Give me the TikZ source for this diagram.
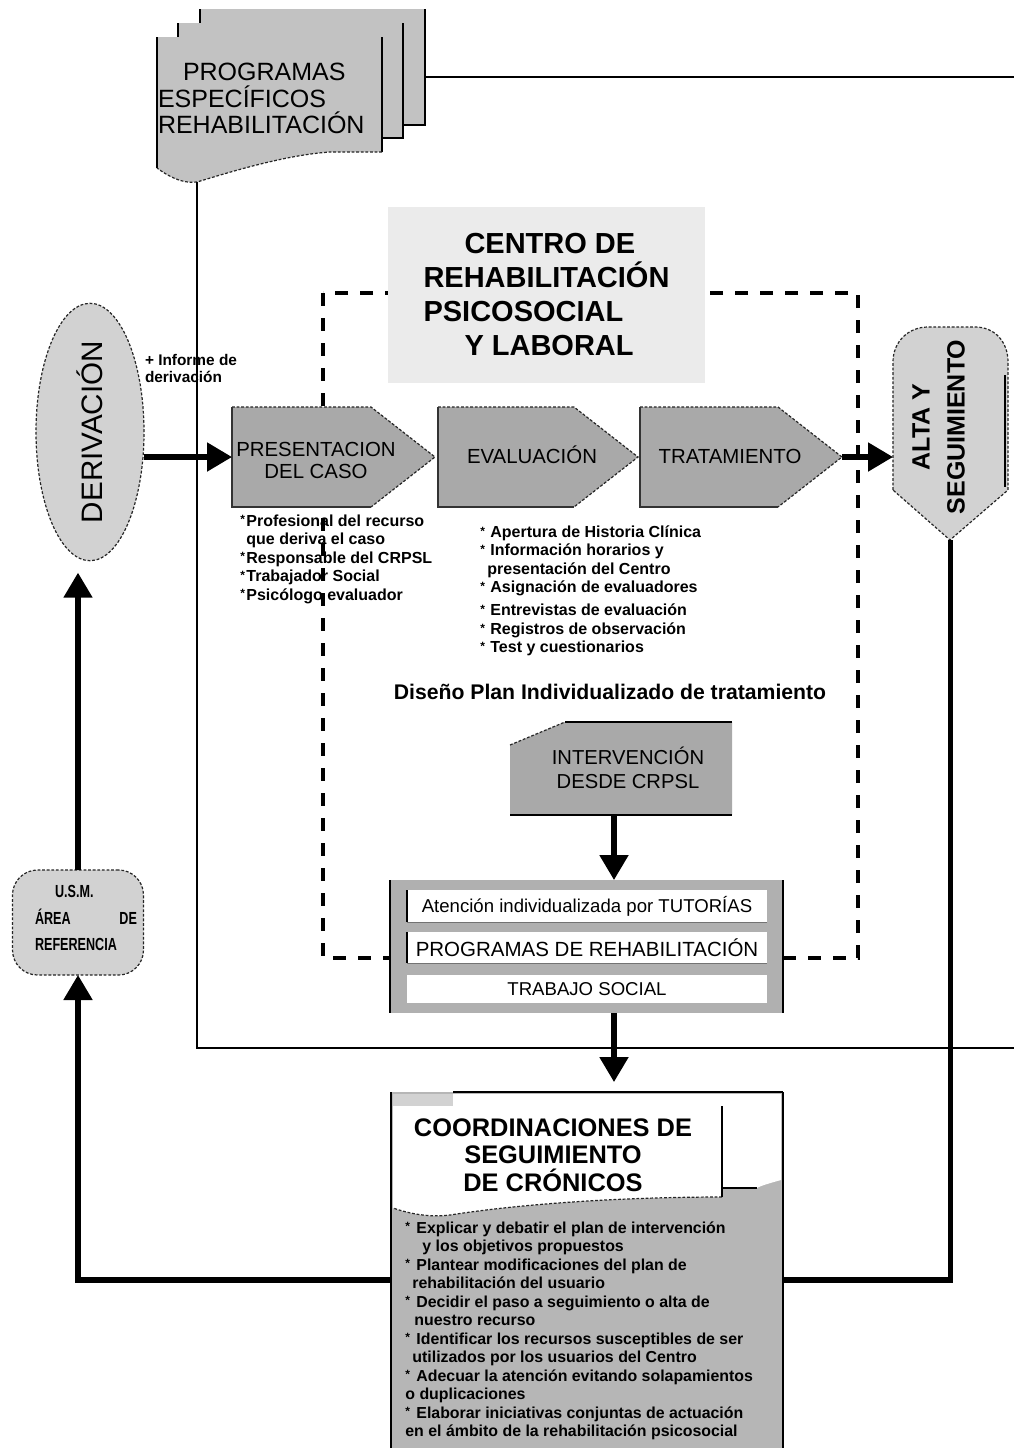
\documentclass[tikz,border=0pt]{standalone}
\usepackage{graphicx}
\usepackage{fontspec}
\setmainfont{Liberation Sans}
\newfontfamily\narrowfont[FakeStretch=0.72]{Liberation Sans}
\usetikzlibrary{calc,shapes.geometric,arrows.meta}

\definecolor{pentfill}{HTML}{A9A9A9}
\definecolor{lightfill}{HTML}{D2D2D2}
\definecolor{pagefill}{HTML}{C2C2C2}
\definecolor{titlefill}{HTML}{EBEBEB}
\definecolor{boxfill}{HTML}{B0B0B0}
\definecolor{coordfill}{HTML}{B6B6B6}

% small raised asterisk used as list bullet, in a box of given width
\newcommand{\itm}[1]{\makebox[#1][l]{\raisebox{0.25ex}{\fontsize{6}{6}\selectfont*}}}

\begin{document}
\begin{tikzpicture}[x=0.5pt,y=-0.5pt,
  flow/.style={line width=2.6pt,-{Triangle[length=12.5pt,width=14pt]}},
  flowline/.style={line width=2.6pt},
  loopline/.style={line width=1.1pt},
  frame/.style={line width=1.6pt,dash pattern=on 6.5pt off 6pt},
  pageedge/.style={line width=0.8pt},
  softedge/.style={draw=black!85,line width=0.6pt,dash pattern=on 1.4pt off 0.9pt},
  slot/.style={rectangle,inner sep=0pt,outer sep=0pt},
  stagetext/.style={font=\fontsize{10.2}{11}\selectfont,align=center,inner sep=0pt},
  listtext/.style={font=\bfseries\fontsize{8}{9.25}\selectfont,align=left,inner sep=0pt,anchor=north west},
  bar/.style={slot,fill=white,minimum width=180pt},
]
\useasboundingbox (0,0) rectangle (1014,1448);
\fill[white] (0,0) rectangle (1014,1448);

% dashed frame of the centre
\draw[frame] (323,293) rectangle (858,958);

% stacked pages of the specific programmes
\fill[pagefill] (200,9) rectangle (425,125);
\draw[pageedge] (200,9) -- (200,125) -- (425,125) -- (425,9);
\fill[pagefill] (178,23) rectangle (403,138);
\draw[pageedge] (178,23) -- (178,138) -- (403,138) -- (403,23);
\fill[pagefill] (157,37) -- (382,37) -- (382,152) -- (330,152)
  .. controls (285,155) and (230,172) .. (197,182)
  .. controls (182,184) and (168,176) .. (157,168) -- cycle;
\draw[pageedge] (157,37) -- (157,168);
\draw[pageedge] (382,37) -- (382,152);
\draw[softedge] (382,152) -- (330,152)
  .. controls (285,155) and (230,172) .. (197,182)
  .. controls (182,184) and (168,176) .. (157,168);
\node[slot,anchor=west,align=left,font=\fontsize{12.5}{13.25}\selectfont] (prog) at (158,98.5)
  {\hspace*{12.5pt}PROGRAMAS\\ESPECÍFICOS\\REHABILITACIÓN};
\coordinate (progfoot) at (197,182);
\coordinate (progside) at (425,77);
\coordinate (rimtop) at (1014,77);
\coordinate (rimbot) at (1014,1048);

% title of the centre
\node[slot,fill=titlefill,minimum width=158.5pt,minimum height=88pt,align=left,
  font=\bfseries\fontsize{14.5}{17}\selectfont] (title) at (546.5,295)
  {\hspace*{20.5pt}CENTRO DE\\REHABILITACIÓN\\PSICOSOCIAL\\\hspace*{20.5pt}Y LABORAL};

% referral
\node[ellipse,inner sep=0pt,outer sep=0pt,fill=lightfill,softedge,minimum width=54pt,minimum height=106pt,
  font=\fontsize{14.8}{16}\selectfont] (der) at (90,432) {\rotatebox{90}{DERIVACIÓN}};
\node[slot,anchor=west,align=left,font=\bfseries\fontsize{7.7}{8.5}\selectfont] (informe) at (145,368)
  {+ Informe de\\derivación};

% stages
\node[slot,minimum width=101.5pt,minimum height=50pt] (pres) at (333.5,457) {};
\node[slot,minimum width=100pt,minimum height=50pt] (eval) at (538,457) {};
\node[slot,minimum width=101pt,minimum height=50pt] (trat) at (741,457) {};
\foreach \s in {pres,eval,trat}{
  \fill[pentfill] (\s.north west) -- ($(\s.north east)+(-64,0)$) -- (\s.east)
    -- ($(\s.south east)+(-64,0)$) -- (\s.south west) -- cycle;
  \draw[softedge] (\s.north west) -- ($(\s.north east)+(-64,0)$) -- (\s.east)
    -- ($(\s.south east)+(-64,0)$);
  \draw[pageedge,black!80] (\s.north west) -- (\s.south west) -- ($(\s.south east)+(-64,0)$);
}
\node[stagetext] (presT) at (316,460) {PRESENTACION\\DEL CASO};
\node[stagetext] (evalT) at (532,455) {EVALUACIÓN};
\node[stagetext] (tratT) at (730,456) {TRATAMIENTO};

% discharge and follow-up
\node[slot,minimum width=57.5pt,minimum height=106.5pt] (alta) at (950.5,433.5) {};
\fill[lightfill] (893,490) -- (893,362) .. controls (893,342) and (908,327) .. (928,327)
  -- (975,327) .. controls (995,327) and (1008,342) .. (1008,362) -- (1008,490) -- (950,540) -- cycle;
\draw[softedge] (893,490) -- (893,362) .. controls (893,342) and (908,327) .. (928,327)
  -- (975,327) .. controls (995,327) and (1008,342) .. (1008,362) -- (1008,490) -- (950,540) -- cycle;
\draw[pageedge] (1005,375) -- (1005,487);
\node[slot,font=\bfseries\fontsize{12.5}{17.5}\selectfont] (altaT) at (940,427)
  {\rotatebox{90}{\begin{tabular}{@{}c@{}}ALTA Y\\SEGUIMIENTO\end{tabular}}};

% task lists under the stages
\node[listtext] (presL) at (240,514)
  {\itm{3pt}Profesional del recurso\\
   \hspace*{3pt}que deriva el caso\\
   \itm{3pt}Responsable del CRPSL\\
   \itm{3pt}Trabajador Social\\
   \itm{3pt}Psicólogo evaluador};
\node[listtext] (evalL) at (480,525)
  {\itm{5pt}Apertura de Historia Clínica\\
   \itm{5pt}Información horarios y\\
   \hspace*{3.5pt}presentación del Centro\\
   \itm{5pt}Asignación de evaluadores\\[2.25pt]
   \itm{5pt}Entrevistas de evaluación\\
   \itm{5pt}Registros de observación\\
   \itm{5pt}Test y cuestionarios};

\node[slot,font=\bfseries\fontsize{10.6}{12}\selectfont] (plan) at (610,692)
  {Diseño Plan Individualizado de tratamiento};

% intervention
\node[slot,minimum width=111pt,minimum height=46.5pt] (interv) at (621,768.5) {};
\fill[pentfill] (interv.south west) -- ($(interv.north west)+(0,23)$) -- ($(interv.north west)+(55,0)$)
  -- (interv.north east) -- (interv.south east) -- cycle;
\draw[softedge] ($(interv.north west)+(0,23)$) -- ($(interv.north west)+(55,0)$);
\draw[pageedge] ($(interv.north west)+(55,0)$) -- (interv.north east);
\draw[pageedge] (interv.south west) -- (interv.south east);
\node[stagetext,font=\fontsize{10.1}{12}\selectfont] (intervT) at (628,768) {INTERVENCIÓN\\DESDE CRPSL};

% intervention components
\node[slot,fill=boxfill,minimum width=196.5pt,minimum height=66.5pt] (listbox) at (586.5,946.5) {};
\draw[pageedge] (listbox.north west) -- (listbox.south west);
\draw[pageedge] (listbox.north east) -- (listbox.south east);
\node[bar,minimum height=16pt,font=\fontsize{9.3}{10}\selectfont] (bar1) at (587,906)
  {Atención individualizada por TUTORÍAS};
\node[bar,minimum height=15.5pt,font=\fontsize{10.25}{11}\selectfont] (bar2) at (587,947.5)
  {PROGRAMAS DE REHABILITACIÓN};
\node[bar,minimum height=14pt,font=\fontsize{9.3}{10}\selectfont] (bar3) at (587,989)
  {TRABAJO SOCIAL};
\foreach \b in {bar1,bar2}{
  \draw[pageedge] (\b.north west) -- (\b.south west);
  \draw[black!55,line width=0.5pt] (\b.south west) -- (\b.south east);
}

% coordination meetings
\node[slot,fill=coordfill,minimum width=196pt,minimum height=178pt] (coordbox) at (587,1270) {};
\fill[white] (393,1106) -- (453,1106) -- (453,1094) -- (781,1094) -- (781,1180)
  .. controls (770,1183) and (760,1186) .. (757,1188) -- (722,1188) -- (722,1197)
  .. controls (620,1197) and (520,1204) .. (450,1215)
  .. controls (425,1218) and (405,1212) .. (393,1208) -- cycle;
\fill[lightfill] (393,1094) rectangle (453,1106);
\draw[softedge] (722,1197) .. controls (620,1197) and (520,1204) .. (450,1215)
  .. controls (425,1218) and (405,1212) .. (393,1208);
\draw[pageedge] (722,1106) -- (722,1197);
\draw[pageedge] (722,1188) -- (757,1188);
\draw[pageedge] (453,1092) -- (coordbox.north east);
\draw[pageedge] (coordbox.north west) -- (coordbox.south west);
\draw[pageedge] (coordbox.north east) -- (coordbox.south east);
\node[slot,align=center,font=\bfseries\fontsize{12.7}{13.75}\selectfont] (coordT) at (553,1155)
  {COORDINACIONES DE\\SEGUIMIENTO\\DE CRÓNICOS};
\node[listtext,font=\bfseries\fontsize{7.95}{9.25}\selectfont] (coordL) at (405,1221)
  {\itm{5.5pt}Explicar y debatir el plan de intervención\\
   \hspace*{8.5pt}y los objetivos propuestos\\
   \itm{5.5pt}Plantear modificaciones del plan de\\
   \hspace*{3.5pt}rehabilitación del usuario\\
   \itm{5.5pt}Decidir el paso a seguimiento o alta de\\
   \hspace*{4.5pt}nuestro recurso\\
   \itm{5.5pt}Identificar los recursos susceptibles de ser\\
   \hspace*{3.5pt}utilizados por los usuarios del Centro\\
   \itm{5.5pt}Adecuar la atención evitando solapamientos\\
   o duplicaciones\\
   \itm{5.5pt}Elaborar iniciativas conjuntas de actuación\\
   en el ámbito de la rehabilitación psicosocial};

% mental health unit
\node[rectangle,rounded corners=12.5pt,inner sep=0pt,outer sep=0pt,fill=lightfill,softedge,
  minimum width=65.5pt,minimum height=52.5pt] (usm) at (78,922.5) {};
\node[slot,text width=51pt,align=left,font=\narrowfont\bfseries\fontsize{8.75}{13.25}\selectfont] (usmT) at (86,918)
  {\hspace*{10pt}U.S.M.\\ÁREA\hfill DE\\REFERENCIA};

% loop of the specific programmes
\draw[loopline] (progside) -- (rimtop);
\draw[loopline] (progfoot) |- (rimbot);

% main flow
\coordinate (axis) at (614,0);
\coordinate (yr) at (0,1280);
\draw[flow] (der.east |- pres.west) -- (pres.west);
\draw[flow] (trat.east) -- (alta.west |- trat.east);
\draw[flow] (interv.south -| axis) -- (listbox.north -| axis);
\draw[flow,shorten >=5pt] (listbox.south -| axis) -- (coordbox.north -| axis);
\draw[flowline] (alta.south) |- (coordbox.east |- yr);
\draw[flow] (coordbox.west |- yr) -| (usm.south);
\draw[flow,shorten >=6pt] (usm.north) -- (usm.north |- der.south);
\end{tikzpicture}
\end{document}
